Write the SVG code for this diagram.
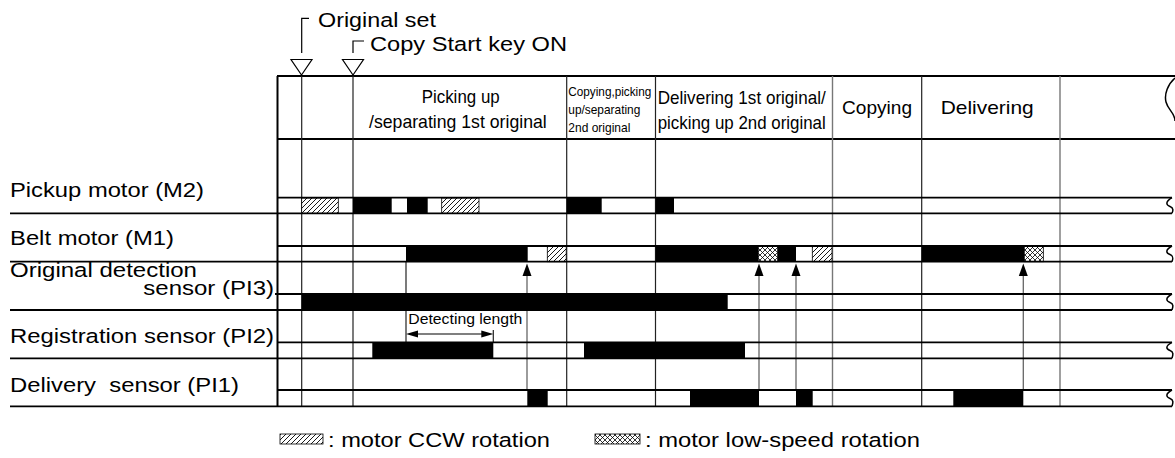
<svg xmlns="http://www.w3.org/2000/svg" width="1175" height="458" viewBox="0 0 1175 458">
<style>
text{font-family:"Liberation Sans",Arial,Helvetica,sans-serif;fill:#000;white-space:pre}
.lbl{font-size:20.5px}
.hd{font-size:19px}
.sm{font-size:13px}
.hl{stroke:#000;stroke-width:1.8;fill:none}
.vl{stroke:#222;stroke-width:1.2;fill:none}
.vg{stroke:#777;stroke-width:1.4;fill:none}
.blk{fill:#000}
.hat{fill:url(#hatch);stroke:#000;stroke-width:0.8}
.xh{fill:url(#cross);stroke:#000;stroke-width:0.8}
.arr{stroke:#666;stroke-width:1.3;fill:none}
.ahd{fill:#000}
.wave{stroke:#000;stroke-width:1.5;fill:none}
</style>
<defs>
<pattern id="hatch" patternUnits="userSpaceOnUse" width="5" height="5">
<rect width="5" height="5" fill="#fff"/>
<path d="M-1,6 L6,-1 M-1,1 L1,-1 M4,6 L6,4" stroke="#000" stroke-width="0.9"/>
</pattern>
<pattern id="cross" patternUnits="userSpaceOnUse" width="5" height="5">
<rect width="5" height="5" fill="#fff"/>
<path d="M-1,6 L6,-1 M-1,1 L1,-1 M4,6 L6,4 M-1,-1 L6,6 M4,-1 L6,1 M-1,4 L1,6" stroke="#000" stroke-width="0.8"/>
</pattern>
</defs>

<!-- event markers -->
<g id="event-original-set">
<path d="M301.7,53 V18.3 H309" stroke="#000" stroke-width="1.2" fill="none"/>
<path d="M291,59.5 H312 L301.5,75 Z" fill="#fff" stroke="#000" stroke-width="1.2"/>
<text class="lbl" x="318" y="27.3" textLength="118" lengthAdjust="spacingAndGlyphs">Original set</text>
</g>
<g id="event-copy-start">
<path d="M353,53 V41 H364" stroke="#000" stroke-width="1.2" fill="none"/>
<path d="M342.5,59.5 H363.5 L353,75 Z" fill="#fff" stroke="#000" stroke-width="1.2"/>
<text class="lbl" x="370" y="51" textLength="197" lengthAdjust="spacingAndGlyphs">Copy Start key ON</text>
</g>

<!-- grid -->
<g id="grid">
<line class="hl" x1="277" y1="76" x2="1175" y2="76"/>
<line class="hl" x1="277" y1="139" x2="1175" y2="139"/>
<line class="vl" x1="301.7" y1="76" x2="301.7" y2="406"/>
<line class="vl" x1="353" y1="76" x2="353" y2="406"/>
<line class="vl" x1="566.7" y1="76" x2="566.7" y2="406"/>
<line class="vl" x1="655.5" y1="76" x2="655.5" y2="406"/>
<line class="vg" x1="832.5" y1="76" x2="832.5" y2="406"/>
<line class="vl" x1="921.7" y1="76" x2="921.7" y2="406"/>
<line class="vg" x1="1060" y1="76" x2="1060" y2="406"/>
<path class="wave" d="M1175,78 C1168,84 1164,94 1166,102 C1168,110 1175,113 1175,121"/>
</g>

<!-- header phases -->
<g id="phase-headers">
<text class="hd" x="421.7" y="103.3" textLength="78" lengthAdjust="spacingAndGlyphs">Picking up</text>
<text class="hd" x="369" y="128.3" textLength="177.7" lengthAdjust="spacingAndGlyphs">/separating 1st original</text>
<text class="sm" x="568.3" y="96" textLength="83" lengthAdjust="spacingAndGlyphs">Copying,picking</text>
<text class="sm" x="568.3" y="114" textLength="72" lengthAdjust="spacingAndGlyphs">up/separating</text>
<text class="sm" x="568.3" y="131.7" textLength="62" lengthAdjust="spacingAndGlyphs">2nd original</text>
<text class="hd" x="657.7" y="104" textLength="168" lengthAdjust="spacingAndGlyphs">Delivering 1st original/</text>
<text class="hd" x="657.7" y="129.3" textLength="168" lengthAdjust="spacingAndGlyphs">picking up 2nd original</text>
<text class="hd" x="842" y="114" textLength="70" lengthAdjust="spacingAndGlyphs">Copying</text>
<text class="hd" x="940.7" y="114" textLength="93" lengthAdjust="spacingAndGlyphs">Delivering</text>
</g>

<!-- connectors (drawn below signal bars) -->
<g id="connectors">
<line class="arr" x1="527" y1="390" x2="527" y2="272"/>
<path class="ahd" d="M527,263.5 L531.5,276 L522.5,276 Z"/>
<line class="arr" x1="759" y1="390" x2="759" y2="272"/>
<path class="ahd" d="M759,263.5 L763.5,276 L754.5,276 Z"/>
<line class="arr" x1="796" y1="390" x2="796" y2="272"/>
<path class="ahd" d="M796,263.5 L800.5,276 L791.5,276 Z"/>
<line class="arr" x1="1023.3" y1="390" x2="1023.3" y2="272"/>
<path class="ahd" d="M1023.3,263.5 L1027.8,276 L1018.8,276 Z"/>
<line class="vl" x1="406" y1="262" x2="406" y2="342"/>
<line class="vl" x1="493.3" y1="330" x2="493.3" y2="342"/>
<path d="M406,334 L418,330.5 L418,337.5 Z M493.3,334 L481.3,330.5 L481.3,337.5 Z" fill="#000"/>
<line x1="416" y1="334" x2="484" y2="334" stroke="#000" stroke-width="1.2"/>
<text x="408.3" y="324" font-size="15" textLength="114" lengthAdjust="spacingAndGlyphs">Detecting length</text>
</g>

<!-- rows -->
<g id="row-pickup-motor">
<text class="lbl" x="10" y="196.5" textLength="194" lengthAdjust="spacingAndGlyphs">Pickup motor (M2)</text>
<rect class="hat" x="301.7" y="198" width="36.6" height="15.3"/>
<rect class="blk" x="353" y="198" width="38.7" height="15.3"/>
<rect class="blk" x="407" y="198" width="20.7" height="15.3"/>
<rect class="hat" x="441.7" y="198" width="37.3" height="15.3"/>
<rect class="blk" x="566.7" y="198" width="35" height="15.3"/>
<rect class="blk" x="655.5" y="198" width="18.5" height="15.3"/>
<line class="hl" x1="277" y1="197.7" x2="1172" y2="197.7"/>
<line class="hl" x1="10" y1="213.3" x2="1172" y2="213.3"/>
<path class="wave" d="M1172,197.7 C1165,202 1166,205 1170,206.5 C1174,208 1173,211 1172,213.3"/>
</g>

<g id="row-belt-motor">
<text class="lbl" x="10" y="244.5" textLength="164" lengthAdjust="spacingAndGlyphs">Belt motor (M1)</text>
<rect class="blk" x="406" y="246" width="121.7" height="15.7"/>
<rect class="hat" x="547.3" y="246" width="18.9" height="15.7"/>
<rect class="blk" x="655.5" y="246" width="102.8" height="15.7"/>
<rect class="xh" x="758.3" y="246" width="19.4" height="15.7"/>
<rect class="blk" x="777.7" y="246" width="18.3" height="15.7"/>
<rect class="hat" x="812.3" y="246" width="19.7" height="15.7"/>
<rect class="blk" x="921.7" y="246" width="102.6" height="15.7"/>
<rect class="xh" x="1024.3" y="246" width="19" height="15.7"/>
<line class="hl" x1="277" y1="246" x2="1172" y2="246"/>
<line class="hl" x1="10" y1="261.7" x2="1172" y2="261.7"/>
<path class="wave" d="M1172,246 C1165,250 1166,253 1170,254.5 C1174,256 1173,259 1172,261.7"/>
</g>

<g id="row-original-detection">
<text class="lbl" x="10" y="277" textLength="187" lengthAdjust="spacingAndGlyphs">Original detection</text>
<text class="lbl" x="143.3" y="295" textLength="130.7" lengthAdjust="spacingAndGlyphs">sensor (PI3)</text>
<rect class="blk" x="301.7" y="294" width="426" height="16"/>
<line class="hl" x1="275" y1="294" x2="1172" y2="294"/>
<line class="hl" x1="10" y1="310" x2="1172" y2="310"/>
<path class="wave" d="M1172,294 C1165,298 1166,301 1170,302.5 C1174,304 1173,307 1172,310"/>
</g>

<g id="row-registration">
<text class="lbl" x="10" y="343" textLength="264" lengthAdjust="spacingAndGlyphs">Registration sensor (PI2)</text>
<rect class="blk" x="372.3" y="342.3" width="121" height="16"/>
<rect class="blk" x="584" y="342.3" width="161" height="16"/>
<line class="hl" x1="277" y1="342.3" x2="1172" y2="342.3"/>
<line class="hl" x1="10" y1="358.3" x2="1172" y2="358.3"/>
<path class="wave" d="M1172,342.3 C1165,346 1166,349 1170,350.5 C1174,352 1173,355 1172,358.3"/>
</g>

<g id="row-delivery">
<text class="lbl" x="10" y="391.5" textLength="229" lengthAdjust="spacingAndGlyphs">Delivery  sensor (PI1)</text>
<rect class="blk" x="527.3" y="390" width="20.4" height="16.3"/>
<rect class="blk" x="690" y="390" width="69" height="16.3"/>
<rect class="blk" x="796" y="390" width="16.7" height="16.3"/>
<rect class="blk" x="953.3" y="390" width="70" height="16.3"/>
<line class="hl" x1="277" y1="390" x2="1172" y2="390"/>
<line class="hl" x1="10" y1="406.3" x2="1172" y2="406.3"/>
<path class="wave" d="M1172,390 C1165,394 1166,397 1170,398.5 C1174,400 1173,403 1172,406.3"/>
</g>

<line x1="277.5" y1="76" x2="277.5" y2="407" stroke="#000" stroke-width="2"/>

<!-- legend -->
<g id="legend">
<rect class="hat" x="280" y="434" width="43" height="10"/>
<text class="lbl" x="328" y="447" textLength="222" lengthAdjust="spacingAndGlyphs">: motor CCW rotation</text>
<rect class="xh" x="595" y="434" width="45" height="10"/>
<text class="lbl" x="645" y="447" textLength="275" lengthAdjust="spacingAndGlyphs">: motor low-speed rotation</text>
</g>
</svg>
